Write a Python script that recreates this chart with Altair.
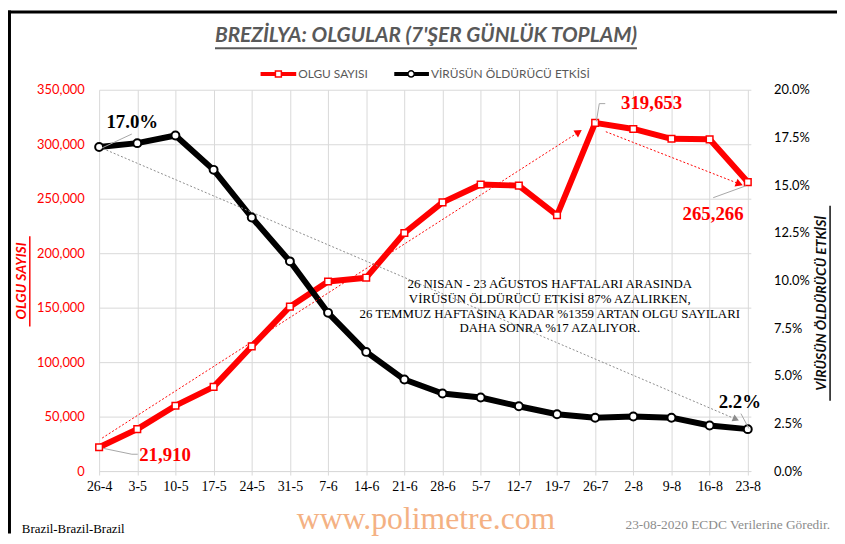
import json
import altair as alt
import pandas as pd

# ---------------- data ----------------
weeks = ["26-4", "3-5", "10-5", "17-5", "24-5", "31-5", "7-6", "14-6", "21-6",
         "28-6", "5-7", "12-7", "19-7", "26-7", "2-8", "9-8", "16-8", "23-8"]
cases = [21910, 38500, 60000, 77300, 114500, 150900, 174000, 177500, 218500,
         246600, 263000, 262000, 234800, 319653, 314000, 305000, 304500, 265266]
lethality_pct = [17.0, 17.2, 17.6, 15.8, 13.3, 11.0, 8.3, 6.25, 4.8,
                 4.07, 3.86, 3.4, 2.98, 2.8, 2.86, 2.8, 2.39, 2.2]

left_ticks = [0, 50000, 100000, 150000, 200000, 250000, 300000, 350000]
right_ticks = [0, 0.025, 0.05, 0.075, 0.1, 0.125, 0.15, 0.175, 0.2]

trend_up_x = [0.08, 12.57]
trend_up_y = [30300, 311200]
trend_down_x = [13.28, 16.78]
trend_down_y = [311500, 263600]
trend_leth_x = [0, 16.69]
trend_leth_y = [0.170, 0.0272]

title_text = "BREZİLYA: OLGULAR (7'ŞER GÜNLÜK TOPLAM)"
legend_labels = ["OLGU SAYISI", "VİRÜSÜN ÖLDÜRÜCÜ ETKİSİ"]
left_title = "OLGU SAYISI"
right_title = "VİRÜSÜN ÖLDÜRÜCÜ ETKİSİ"
note_lines = [
    "26 NISAN - 23 AĞUSTOS  HAFTALARI  ARASINDA",
    "VİRÜSÜN  ÖLDÜRÜCÜ  ETKİSİ  87% AZALIRKEN,",
    "26 TEMMUZ HAFTASINA KADAR %1359 ARTAN OLGU  SAYILARI",
    "DAHA SONRA %17 AZALIYOR.",
]
footer_left = "Brazil-Brazil-Brazil"
footer_mid = "www.polimetre.com"
footer_right = "23-08-2020  ECDC  Verilerine  Göredir."

# ---------------- tables ----------------
df = pd.DataFrame({
    "idx": list(range(len(weeks))),
    "week": weeks,
    "cases": cases,
    "leth": [v / 100 for v in lethality_pct],
})
t_up = pd.DataFrame({"idx": trend_up_x, "cases": trend_up_y})
t_down = pd.DataFrame({"idx": trend_down_x, "cases": trend_down_y})
t_leth = pd.DataFrame({"idx": trend_leth_x, "leth": trend_leth_y})
one = pd.DataFrame({"k": [0]})

RED = "#FF0000"
GRID = "#d9d9d9"

xscale = alt.Scale(domain=[0, 17.08], nice=False, zero=False)
X = alt.X("idx:Q", scale=xscale,
          axis=alt.Axis(values=list(range(len(weeks))),
                        labelExpr=json.dumps(weeks, ensure_ascii=False) + "[datum.value]",
                        title=None, grid=True, gridColor=GRID, domainColor=GRID,
                        tickColor=GRID, tickSize=4, labelFont="Liberation Serif",
                        labelFontSize=14, labelColor="black", labelPadding=5,
                        labelFlush=False, labelOverlap=False))

cscale = alt.Scale(domain=[0, 350000], nice=False, zero=True)
lscale = alt.Scale(domain=[0, 0.2], nice=False, zero=True)

Y_left = alt.Y("cases:Q", scale=cscale,
               axis=alt.Axis(orient="left", values=left_ticks, format=",.0f", title=None,
                             grid=True, gridColor=GRID, domain=False, ticks=False,
                             tickSize=0, labelFont="Lato", labelFontSize=13,
                             labelColor=RED, labelPadding=15))
Y_right = alt.Y("leth:Q", scale=lscale,
                axis=alt.Axis(orient="right", values=right_ticks, format=".1%", title=None,
                              grid=False, domain=False, ticks=False, tickSize=0,
                              labelFont="Lato", labelFontSize=13, labelColor="black",
                              labelPadding=23))
Yc = alt.Y("cases:Q", scale=cscale, axis=None)
Yl = alt.Y("leth:Q", scale=lscale, axis=None)

layers = []

# trend lines (dotted) with arrowheads
layers.append(alt.Chart(t_up).mark_line(color=RED, strokeWidth=1, strokeDash=[2, 2])
              .encode(x=X, y=Yc))
layers.append(alt.Chart(t_up).transform_filter(alt.datum.idx > 1)
              .mark_point(shape="triangle-up", filled=True, color=RED, size=70,
                          angle=57, opacity=1).encode(x=X, y=Yc))
layers.append(alt.Chart(t_down).mark_line(color=RED, strokeWidth=1, strokeDash=[2, 2])
              .encode(x=X, y=Yc))
layers.append(alt.Chart(t_down).transform_filter(alt.datum.idx > 15)
              .mark_point(shape="triangle-up", filled=True, color=RED, size=70,
                          angle=111, opacity=1).encode(x=X, y=Yc))
layers.append(alt.Chart(t_leth).mark_line(color="#8c8c8c", strokeWidth=1, strokeDash=[2, 2])
              .encode(x=X, y=Yl))
layers.append(alt.Chart(t_leth).transform_filter(alt.datum.idx > 1)
              .mark_point(shape="triangle-up", filled=True, color="#8c8c8c", size=55,
                          angle=113, opacity=1).encode(x=X, y=Yl))

# main series
red_line = alt.Chart(df).mark_line(color=RED, strokeWidth=6, strokeJoin="round").encode(x=X, y=Y_left)
red_pts = alt.Chart(df).mark_point(shape="square", filled=True, fill="white", stroke=RED,
                                   strokeWidth=1.5, size=45, opacity=1).encode(x=X, y=Yc)
blk_line = alt.Chart(df).mark_line(color="black", strokeWidth=6, strokeJoin="round").encode(x=X, y=Y_right)
blk_pts = alt.Chart(df).mark_point(shape="circle", filled=True, fill="white", stroke="black",
                                   strokeWidth=2, size=64, opacity=1).encode(x=X, y=Yl)


def rule(x1, y1, x2, y2, color="#a6a6a6", w=1.0):
    return alt.Chart(one).mark_rule(color=color, strokeWidth=w).encode(
        x=alt.value(x1), y=alt.value(y1), x2=alt.value(x2), y2=alt.value(y2))


def txt(text, x, y, **kw):
    return alt.Chart(one).mark_text(**kw).encode(
        x=alt.value(x), y=alt.value(y), text=alt.value(text))


# leader lines
leaders = [
    rule(3, 58.7, 33, 44.7),
    rule(4, 362, 33, 368), rule(33, 368, 39, 368),
    rule(502, 32, 505, 14), rule(505, 14, 511, 14),
    rule(653, 97, 620, 109),
    rule(648, 327, 656, 342),
]

lab_style = dict(font="Liberation Serif", fontSize=19, fontWeight="bold", baseline="alphabetic")


def case_label(i, dx, dy):
    return alt.Chart(df).transform_filter(alt.datum.idx == i).mark_text(
        color=RED, dx=dx, dy=dy, **lab_style).encode(
        x=X, y=Yc, text=alt.Text("cases:Q", format=",.0f"))


def leth_label(i, dx, dy):
    return alt.Chart(df).transform_filter(alt.datum.idx == i).mark_text(
        color="black", dx=dx, dy=dy, **lab_style).encode(
        x=X, y=Yl, text=alt.Text("leth:Q", format=".1%"))


labels = [
    case_label(0, 66.5, 14),
    case_label(13, 57, -14),
    case_label(17, -35, 38.5),
    leth_label(0, 33.5, -19.5),
    leth_label(17, -8, -21),
]

# texts and decorations
deco = [
    # frame
    rule(-92, -78.5, 745, -78.5, color="black", w=3),
    rule(-90.5, -80, -90.5, 448, color="black", w=3),
    # title
    txt(title_text, 330, -48, font="Lato", fontSize=21, fontStyle="italic",
        fontWeight="bold", color="#595959", align="center", baseline="alphabetic"),
    rule(117, -42, 543, -42, color="#595959", w=2),
    # legend
    rule(163, -16, 199, -16, color=RED, w=4),
    alt.Chart(one).mark_point(shape="square", filled=True, fill="white", stroke=RED,
                              strokeWidth=1.5, size=36, opacity=1).encode(
        x=alt.value(181), y=alt.value(-16)),
    txt(legend_labels[0], 201, -16, font="Lato", fontSize=12, color="#595959",
        align="left", baseline="middle"),
    rule(298, -16, 333, -16, color="black", w=4),
    alt.Chart(one).mark_point(shape="circle", filled=True, fill="white", stroke="black",
                              strokeWidth=1.5, size=40, opacity=1).encode(
        x=alt.value(315), y=alt.value(-16)),
    txt(legend_labels[1], 335, -16, font="Lato", fontSize=12, color="#595959",
        align="left", baseline="middle"),
    # axis titles
    txt(left_title, -78, 193, font="Lato", fontSize=14, fontStyle="italic",
        fontWeight="bold", color=RED, align="center", baseline="middle", angle=270),
    rule(-70, 148, -70, 239, color=RED, w=1.5),
    txt(right_title, 730, 215.5, font="Lato", fontSize=14, fontStyle="italic",
        fontWeight="bold", color="#0d0d0d", align="center", baseline="middle", angle=270),
    rule(738, 117, 738, 314, color="#0d0d0d", w=1.5),
    # note
    txt(note_lines, 455, 200, font="Liberation Serif", fontSize=13, color="black",
        align="center", baseline="alphabetic", lineHeight=15),
    # footer
    txt(footer_left, -78, 447.5, font="Liberation Serif", fontSize=13, color="black",
        align="left", baseline="alphabetic"),
    txt(footer_mid, 330, 443, font="Liberation Serif", fontSize=32, color="#F4B183",
        align="center", baseline="alphabetic"),
    txt(footer_right, 738, 443.5, font="Liberation Serif", fontSize=13.5, color="#8c8c8c",
        align="right", baseline="alphabetic"),
]

chart = alt.layer(
    red_line, blk_line, *layers, red_pts, blk_pts, *leaders, *labels, *deco
).resolve_scale(y="independent").properties(
    width=658, height=385,
    autosize=alt.AutoSizeParams(type="none"),
    padding={"left": 92, "top": 80, "right": 87, "bottom": 63},
    background="white",
).configure_view(stroke=None)

chart.save("out.html", embed_options={"renderer": "svg", "actions": False})
